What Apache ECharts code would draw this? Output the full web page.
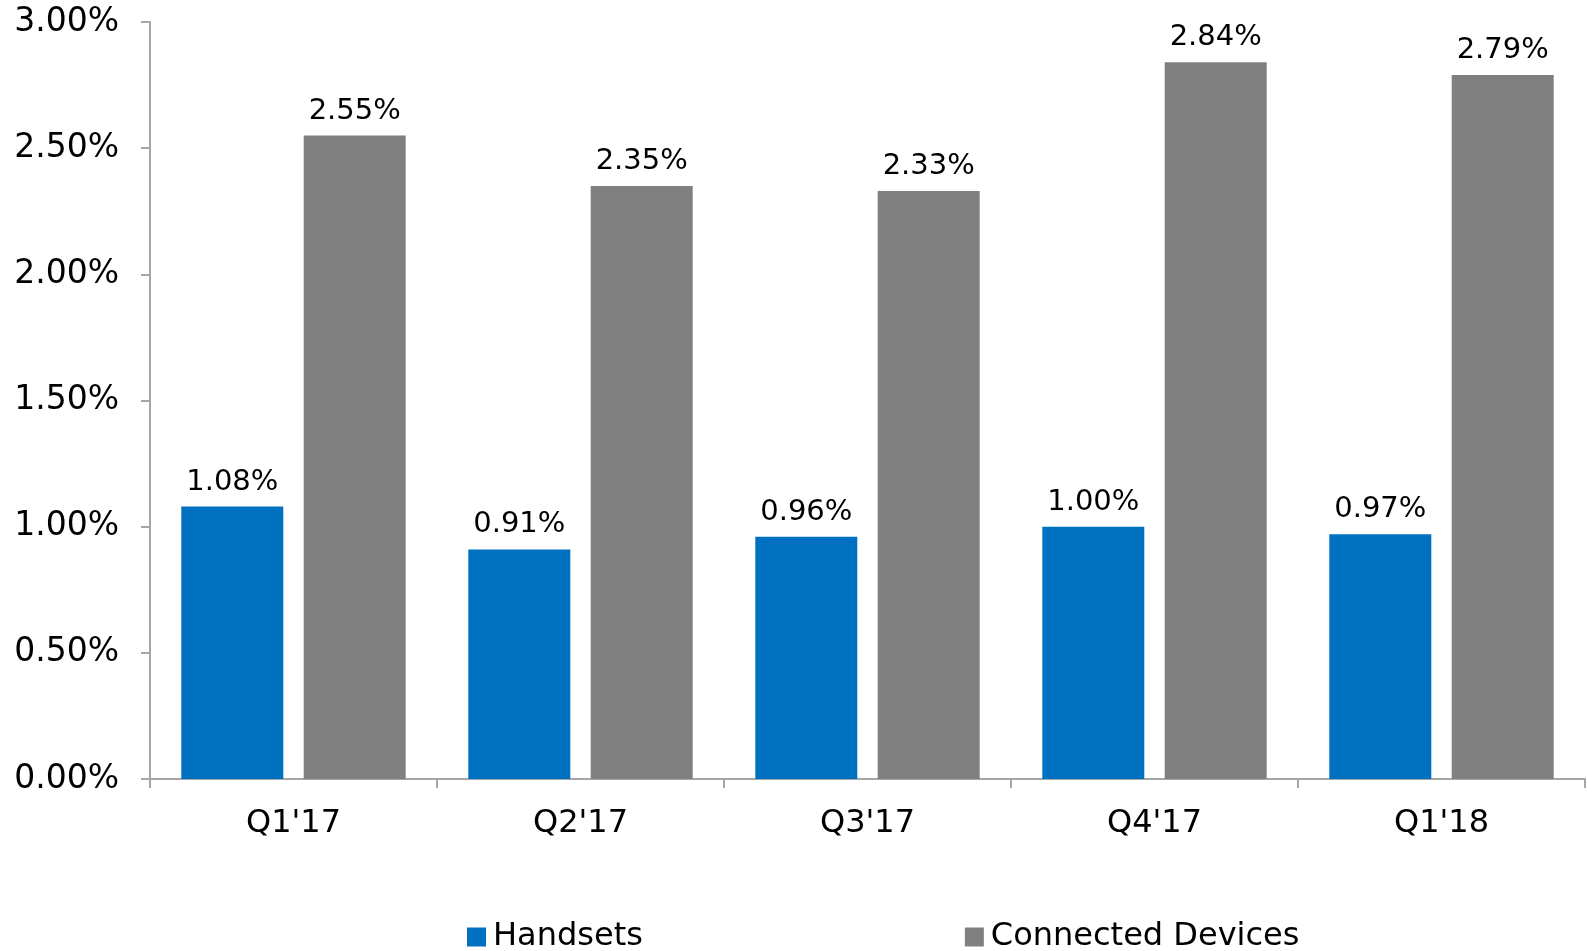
<!DOCTYPE html>
<html>
<head>
<meta charset="utf-8">
<script src="https://cdn.jsdelivr.net/npm/echarts@6/dist/echarts.min.js"></script>
<style>
  html, body { margin: 0; padding: 0; background: #fff; }
  #chart { width: 1587px; height: 951px; }
</style>
</head>
<body>
<div id="chart"></div>
<script>
// 季度
const categories = ["Q1'17", "Q2'17", "Q3'17", "Q4'17", "Q1'18"];
// 手机
const handsets = [1.08, 0.91, 0.96, 1.0, 0.97];
// 联网设备
const connectedDevices = [2.55, 2.35, 2.33, 2.84, 2.79];

const font = "DejaVu Sans";
const pct = (v) => v.toFixed(2) + "%";

const chart = echarts.init(document.getElementById("chart"));

const options = {
  textStyle: { fontFamily: font },
  animation: false,
  grid: {
    left: 150,
    right: 2,
    top: 22,
    bottom: 172,
  },
  legend: {
    bottom: -7,
    left: 462,
    itemWidth: 19,
    itemHeight: 19,
    itemGap: 322,
    icon: "rect",
    textStyle: { fontSize: 32, color: "#000", fontFamily: font, padding: [0, 0, 0, 2] },
    data: ["Handsets", "Connected Devices"],
  },
  xAxis: {
    type: "category",
    data: categories,
    axisLine: { lineStyle: { color: "#a6a6a6", width: 2 } },
    axisTick: { show: true, length: 9, lineStyle: { color: "#a6a6a6", width: 2 } },
    axisLabel: { fontSize: 32, color: "#000", margin: 29, fontFamily: font },
  },
  yAxis: {
    type: "value",
    min: 0,
    max: 3,
    interval: 0.5,
    splitLine: { show: false },
    axisLine: { show: true, lineStyle: { color: "#a6a6a6", width: 2 } },
    axisTick: { show: true, length: 9, lineStyle: { color: "#a6a6a6", width: 2 } },
    axisLabel: {
      fontSize: 33,
      color: "#000",
      margin: 31,
      fontFamily: font,
      formatter: (v) => pct(v),
    },
  },
  series: [
    {
      name: "Handsets",
      type: "bar",
      data: handsets,
      barWidth: 102,
      barGap: "20%",
      itemStyle: { color: "#0070C0" },
      label: {
        show: true,
        position: "top",
        distance: 10,
        fontSize: 29,
        color: "#000",
        fontFamily: font,
        formatter: (p) => pct(p.value),
      },
    },
    {
      name: "Connected Devices",
      type: "bar",
      data: connectedDevices,
      barWidth: 102,
      itemStyle: { color: "#808080" },
      label: {
        show: true,
        position: "top",
        distance: 10,
        fontSize: 29,
        color: "#000",
        fontFamily: font,
        formatter: (p) => pct(p.value),
      },
    },
  ],
};

chart.setOption(options);
</script>
</body>
</html>
